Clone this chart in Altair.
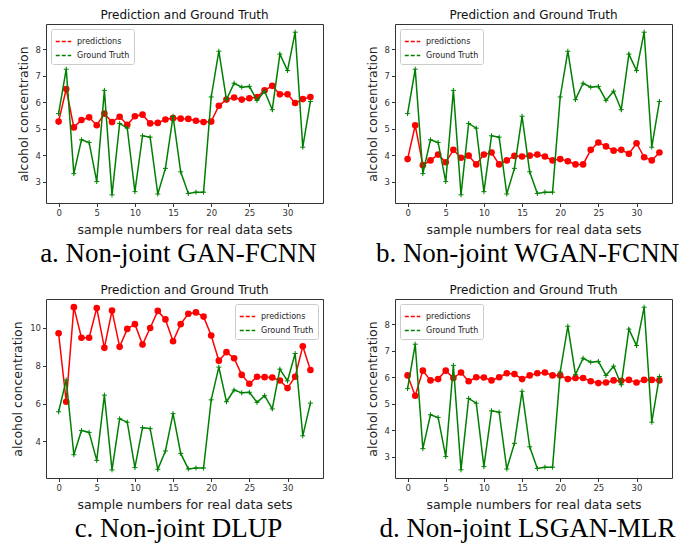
import altair as alt
import pandas as pd

x_idx = list(range(34))
ground_truth = [5.57, 7.25, 3.3, 4.58, 4.48, 3.0, 6.45, 2.5, 5.2, 5.02,
                2.62, 4.73, 4.68, 2.53, 3.5, 5.47, 3.37, 2.55, 2.6, 2.6,
                6.2, 7.93, 6.1, 6.72, 6.57, 6.6, 6.07, 6.42, 5.72, 7.82,
                7.2, 8.65, 4.3, 6.03]
pred_a = [5.27, 6.5, 5.05, 5.33, 5.43, 5.13, 5.57, 5.25, 5.45, 5.15,
          5.47, 5.53, 5.2, 5.22, 5.35, 5.4, 5.38, 5.37, 5.3, 5.25,
          5.27, 5.87, 6.1, 6.18, 6.1, 6.15, 6.2, 6.45, 6.62, 6.3,
          6.3, 5.97, 6.12, 6.2]
pred_b = [3.85, 5.13, 3.62, 3.8, 4.02, 3.73, 4.2, 3.9, 3.98, 3.65,
          4.02, 4.1, 3.65, 3.8, 3.97, 3.95, 3.98, 4.02, 3.95, 3.8,
          3.85, 3.77, 3.65, 3.65, 4.2, 4.48, 4.33, 4.17, 4.2, 4.05,
          4.45, 3.92, 3.8, 4.1]
pred_c = [9.72, 6.1, 11.1, 9.48, 9.48, 11.05, 8.95, 10.92, 9.0, 9.95,
          10.2, 9.12, 10.0, 10.9, 10.45, 9.3, 10.2, 10.75, 10.82, 10.6,
          9.6, 8.27, 8.72, 8.4, 7.52, 7.05, 7.42, 7.4, 7.38, 7.22,
          6.82, 7.42, 9.03, 7.78]
pred_d = [6.07, 5.3, 6.25, 5.88, 5.93, 6.25, 5.97, 6.18, 5.85, 6.0,
          5.99, 5.88, 6.0, 6.15, 6.12, 5.93, 6.07, 6.15, 6.18, 6.07,
          6.07, 5.93, 5.97, 5.97, 5.85, 5.78, 5.8, 5.88, 5.87, 5.9,
          5.8, 5.9, 5.9, 5.88]
series_names = ["predictions", "Ground Truth"]
series_colors = ["#ff0000", "#008000"]
x_ticks = [0, 5, 10, 15, 20, 25, 30]
captions = ["a. Non-joint GAN-FCNN", "b. Non-joint WGAN-FCNN",
            "c. Non-joint DLUP", "d. Non-joint LSGAN-MLR"]

W, H = 277, 179
FONT = "DejaVu Sans"


def panel(pred, ydom, yticks, legend_orient, caption):
    df = pd.DataFrame({
        "x": x_idx + x_idx,
        "v": pred + ground_truth,
        "series": [series_names[0]] * len(x_idx) + [series_names[1]] * len(x_idx),
    })
    X = alt.X("x:Q", scale=alt.Scale(domain=[-1.65, 34.65], nice=False, zero=False),
              axis=alt.Axis(values=x_ticks, title="sample numbers for real data sets",
                            labelPadding=2, titlePadding=6, titleFontSize=12.5,
                            titleFont=FONT, titleFontWeight="normal"))
    Y = alt.Y("v:Q", scale=alt.Scale(domain=ydom, nice=False, zero=False),
              axis=alt.Axis(values=yticks, title="alcohol concentration",
                            labelPadding=2, titlePadding=5, minExtent=0,
                            titleFontSize=12.5, titleFont=FONT,
                            titleFontWeight="normal"))
    color = alt.Color("series:N",
                      scale=alt.Scale(domain=series_names, range=series_colors),
                      legend=alt.Legend(title=None, orient=legend_orient, offset=5,
                                        symbolType="stroke", symbolDash=[4, 2],
                                        symbolStrokeWidth=1.5, symbolSize=240,
                                        labelFontSize=8, labelFont=FONT,
                                        labelColor="#222", labelOffset=5,
                                        padding=4, rowPadding=1,
                                        fillColor="white", strokeColor="#cccccc",
                                        cornerRadius=2))
    base = alt.Chart(df).encode(x=X, y=Y)
    red_line = base.transform_filter(alt.datum.series == series_names[0]).mark_line(
        strokeWidth=1.5).encode(color=color)
    red_pts = base.transform_filter(alt.datum.series == series_names[0]).mark_point(
        filled=True, size=44, opacity=1, color=series_colors[0])
    green_line = base.transform_filter(alt.datum.series == series_names[1]).mark_line(
        strokeWidth=1.5).encode(color=color)
    green_pts = base.transform_filter(alt.datum.series == series_names[1]).mark_point(
        shape="M-1,0H1M0,-1V1", size=25, strokeWidth=1, opacity=1,
        filled=False, color=series_colors[1])
    cap = alt.Chart(pd.DataFrame({"t": [caption]})).mark_text(
        font="Liberation Serif", fontSize=27, baseline="alphabetic",
        align="center", color="#000").encode(
        text="t:N", x=alt.value(W / 2 - 6), y=alt.value(H + 59))
    return alt.layer(red_line, red_pts, green_line, green_pts, cap).properties(
        width=W, height=H,
        title=alt.TitleParams("Prediction and Ground Truth", fontSize=12,
                              font=FONT, fontWeight="normal", color="#111",
                              anchor="middle", offset=2))


pa = panel(pred_a, [2.19, 8.96], [3, 4, 5, 6, 7, 8], "top-left", captions[0])
pb = panel(pred_b, [2.19, 8.96], [3, 4, 5, 6, 7, 8], "top-left", captions[1])
pc = panel(pred_c, [2.07, 11.53], [4, 6, 8, 10], "top-right", captions[2])
pd_ = panel(pred_d, [2.19, 8.96], [3, 4, 5, 6, 7, 8], "top-left", captions[3])

chart = alt.concat(pa, pb, pc, pd_, columns=2, bounds="flush",
                   spacing={"row": 96, "column": 72}
                   ).properties(
    padding={"left": 3, "top": 0, "right": 0, "bottom": 0},
    background="white"
).configure_view(stroke="#333333", strokeWidth=1).configure_axis(
    domain=False, grid=False, tickColor="#333333", tickSize=3.5,
    labelFontSize=8.5, labelColor="#333333", labelFont=FONT,
    titleFontSize=12.5, titleFontWeight="normal", titleColor="#222222",
    titleFont=FONT
)

chart.save("out.html", embed_options={"renderer": "svg", "actions": False})
